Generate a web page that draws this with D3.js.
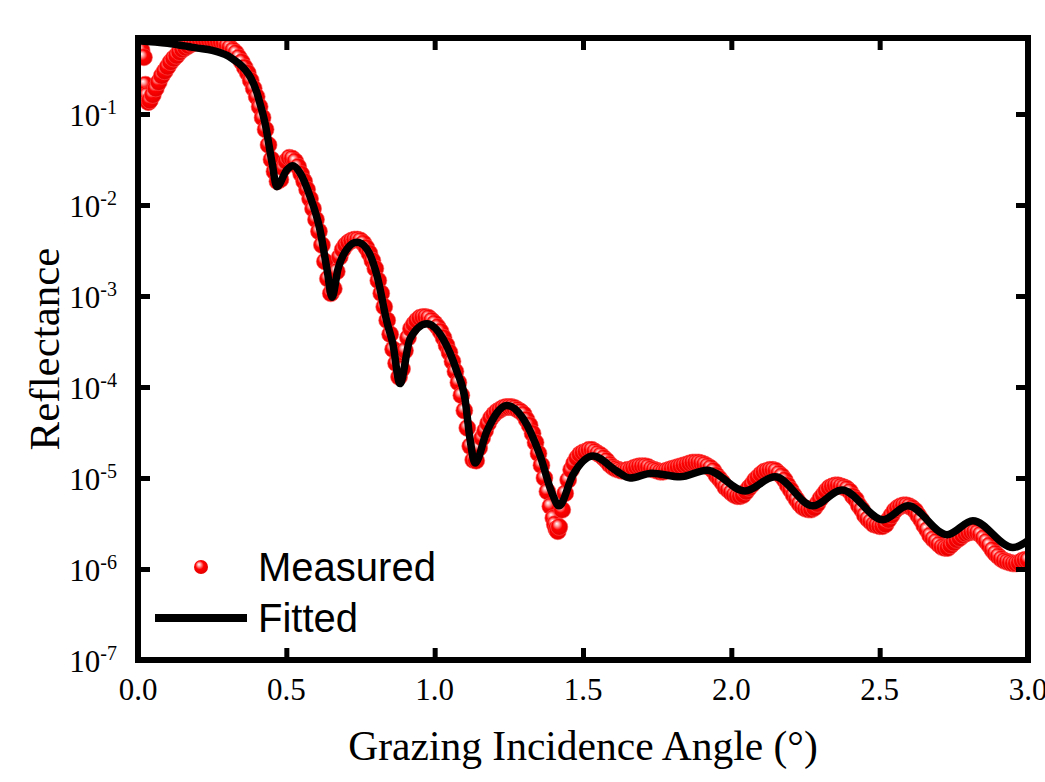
<!DOCTYPE html>
<html>
<head>
<meta charset="utf-8">
<script src="https://cdn.jsdelivr.net/npm/d3@7"></script>
<style>
  body { margin: 0; background: #fff; }
</style>
</head>
<body>
<script>
// Fitted curve (angle in degrees, reflectance)
var fitAngle = [0, 0.1, 0.2, 0.25, 0.28, 0.30, 0.32, 0.34, 0.36, 0.38, 0.40, 0.41, 0.428, 0.452, 0.468,
                0.502, 0.522, 0.546, 0.580, 0.613, 0.637, 0.654, 0.674, 0.704, 0.738,
                0.772, 0.806, 0.839, 0.859, 0.883, 0.917, 0.974, 1.028, 1.075, 1.102,
                1.119, 1.136, 1.176, 1.244, 1.298, 1.355, 1.395, 1.419, 1.466, 1.534,
                1.614, 1.658, 1.732, 1.827, 1.918, 2.046, 2.147, 2.275, 2.373, 2.511,
                2.595, 2.727, 2.814, 2.949, 3.0];
var fitR = [0.64, 0.60, 0.53, 0.50, 0.468, 0.44, 0.40, 0.36, 0.31, 0.25, 0.175, 0.135, 0.080, 0.029, 0.0159,
            0.0244, 0.0270, 0.0226, 0.0124, 5.4e-3, 1.97e-3, 9.7e-4, 1.97e-3, 3.27e-3, 3.89e-3,
            3.27e-3, 1.66e-3, 5.2e-4, 2.99e-4, 1.09e-4, 3.39e-4, 4.94e-4, 3.39e-4, 1.48e-4, 7.5e-5,
            2.7e-5, 1.46e-5, 3.27e-5, 6.28e-5, 4.53e-5, 1.78e-5, 6.9e-6, 4.94e-6, 1.08e-5, 1.74e-5,
            1.19e-5, 1.0e-5, 1.13e-5, 1.03e-5, 1.22e-5, 7.2e-6, 1.03e-5, 4.94e-6, 7.4e-6, 3.48e-6,
            4.94e-6, 2.38e-6, 3.39e-6, 1.72e-6, 2.05e-6];

// Measured points
var measuredAngle = [0.005, 0.012, 0.02, 0.025, 0.03, 0.035,
  0.04, 0.05, 0.06, 0.07, 0.08, 0.09, 0.10,
  0.11, 0.12, 0.13, 0.14, 0.15, 0.16, 0.17, 0.18, 0.19, 0.20,
  0.21, 0.22, 0.23, 0.24, 0.25, 0.26, 0.27, 0.28, 0.29, 0.30,
  0.31, 0.32, 0.33, 0.34, 0.35, 0.36, 0.37, 0.38, 0.39, 0.40,
  0.41, 0.42, 0.43, 0.44, 0.45, 0.46, 0.47, 0.48, 0.49, 0.50,
  0.51, 0.52, 0.53, 0.54, 0.55, 0.56, 0.57, 0.58, 0.59, 0.60,
  0.61, 0.62, 0.63, 0.64, 0.65, 0.66, 0.67, 0.68, 0.69, 0.70,
  0.71, 0.72, 0.73, 0.74, 0.75, 0.76, 0.77, 0.78, 0.79, 0.80,
  0.81, 0.82, 0.83, 0.84, 0.85, 0.86, 0.87, 0.88, 0.89, 0.90,
  0.91, 0.92, 0.93, 0.94, 0.95, 0.96, 0.97, 0.98, 0.99, 1.00,
  1.01, 1.02, 1.03, 1.04, 1.05, 1.06, 1.07, 1.08, 1.09, 1.10,
  1.11, 1.12, 1.13, 1.14, 1.15, 1.16, 1.17, 1.18, 1.19, 1.20,
  1.21, 1.22, 1.23, 1.24, 1.25, 1.26, 1.27, 1.28, 1.29, 1.30,
  1.31, 1.32, 1.33, 1.34, 1.35, 1.36, 1.37, 1.38, 1.39, 1.40,
  1.405, 1.41, 1.415, 1.42, 1.43, 1.44, 1.45, 1.46, 1.47, 1.48, 1.49, 1.50,
  1.51, 1.52, 1.53, 1.54, 1.55, 1.56, 1.57, 1.58, 1.59, 1.60,
  1.61, 1.62, 1.63, 1.64, 1.65, 1.66, 1.67, 1.68, 1.69, 1.70,
  1.71, 1.72, 1.73, 1.74, 1.75, 1.76, 1.77, 1.78, 1.79, 1.80,
  1.81, 1.82, 1.83, 1.84, 1.85, 1.86, 1.87, 1.88, 1.89, 1.90,
  1.91, 1.92, 1.93, 1.94, 1.95, 1.96, 1.97, 1.98, 1.99, 2.00,
  2.01, 2.02, 2.03, 2.04, 2.05, 2.06, 2.07, 2.08, 2.09, 2.10,
  2.11, 2.12, 2.13, 2.14, 2.15, 2.16, 2.17, 2.18, 2.19, 2.20,
  2.21, 2.22, 2.23, 2.24, 2.25, 2.26, 2.27, 2.28, 2.29, 2.30,
  2.31, 2.32, 2.33, 2.34, 2.35, 2.36, 2.37, 2.38, 2.39, 2.40,
  2.41, 2.42, 2.43, 2.44, 2.45, 2.46, 2.47, 2.48, 2.49, 2.50,
  2.51, 2.52, 2.53, 2.54, 2.55, 2.56, 2.57, 2.58, 2.59, 2.60,
  2.61, 2.62, 2.63, 2.64, 2.65, 2.66, 2.67, 2.68, 2.69, 2.70,
  2.71, 2.72, 2.73, 2.74, 2.75, 2.76, 2.77, 2.78, 2.79, 2.80,
  2.81, 2.82, 2.83, 2.84, 2.85, 2.86, 2.87, 2.88, 2.89, 2.90,
  2.91, 2.92, 2.93, 2.94, 2.95, 2.96, 2.97, 2.98, 2.99, 3.00];
var measuredR = [0.62, 0.50, 0.42, 0.21, 0.16, 0.135,
  0.141, 0.162, 0.191, 0.224, 0.263, 0.295, 0.331,
  0.372, 0.407, 0.437, 0.479, 0.513, 0.537, 0.562, 0.589, 0.603, 0.617,
  0.63, 0.64, 0.64, 0.64, 0.64, 0.63, 0.63, 0.617, 0.603, 0.562,
  0.537, 0.501, 0.468, 0.417, 0.372, 0.324, 0.282, 0.234, 0.191, 0.155,
  0.120, 0.0912, 0.0676, 0.0457, 0.0316, 0.0234, 0.0182, 0.0191, 0.0257, 0.0302,
  0.0331, 0.0324, 0.0302, 0.0263, 0.0219, 0.0182, 0.0148, 0.0117, 0.00912, 0.00692,
  0.00513, 0.00363, 0.00240, 0.00155, 0.00107, 0.00120, 0.00186, 0.00269, 0.00324, 0.00363,
  0.00389, 0.00407, 0.00417, 0.00417, 0.00407, 0.00380, 0.00339, 0.00295, 0.00245, 0.00200,
  0.00148, 0.00107, 7.6e-4, 5.4e-4, 3.8e-4, 2.6e-4, 1.82e-4, 1.29e-4, 1.58e-4, 2.51e-4,
  3.47e-4, 4.37e-4, 4.90e-4, 5.37e-4, 5.75e-4, 5.89e-4, 5.89e-4, 5.75e-4, 5.37e-4, 5.01e-4,
  4.57e-4, 4.07e-4, 3.47e-4, 2.88e-4, 2.40e-4, 1.91e-4, 1.48e-4, 1.12e-4, 8.1e-5, 5.5e-5,
  3.55e-5, 2.24e-5, 1.58e-5, 1.55e-5, 2.14e-5, 2.75e-5, 3.31e-5, 3.98e-5, 4.57e-5, 5.01e-5,
  5.37e-5, 5.62e-5, 5.89e-5, 6.03e-5, 6.03e-5, 6.03e-5, 5.89e-5, 5.62e-5, 5.37e-5, 5.01e-5,
  4.37e-5, 3.80e-5, 3.09e-5, 2.45e-5, 1.86e-5, 1.38e-5, 1.00e-5, 7.1e-6, 4.9e-6, 3.63e-6,
  3.1e-6, 2.75e-6, 2.6e-6, 2.9e-6, 4.47e-6, 6.8e-6, 9.5e-6, 1.23e-5, 1.45e-5, 1.66e-5, 1.82e-5, 1.91e-5,
  1.95e-5, 2.04e-5, 2.04e-5, 1.95e-5, 1.86e-5, 1.78e-5, 1.66e-5, 1.55e-5, 1.41e-5, 1.32e-5,
  1.26e-5, 1.23e-5, 1.20e-5, 1.20e-5, 1.23e-5, 1.23e-5, 1.29e-5, 1.32e-5, 1.35e-5, 1.35e-5,
  1.35e-5, 1.32e-5, 1.26e-5, 1.23e-5, 1.20e-5, 1.17e-5, 1.17e-5, 1.20e-5, 1.23e-5, 1.26e-5,
  1.29e-5, 1.32e-5, 1.35e-5, 1.38e-5, 1.41e-5, 1.45e-5, 1.48e-5, 1.48e-5, 1.48e-5, 1.45e-5,
  1.41e-5, 1.35e-5, 1.29e-5, 1.20e-5, 1.07e-5, 9.8e-6, 8.9e-6, 7.9e-6, 7.4e-6, 6.9e-6,
  6.5e-6, 6.3e-6, 6.3e-6, 6.5e-6, 7.1e-6, 7.8e-6, 8.5e-6, 9.5e-6, 1.02e-5, 1.10e-5,
  1.17e-5, 1.20e-5, 1.23e-5, 1.23e-5, 1.20e-5, 1.12e-5, 1.05e-5, 9.5e-6, 8.3e-6, 7.4e-6,
  6.5e-6, 5.8e-6, 5.2e-6, 4.8e-6, 4.6e-6, 4.5e-6, 4.5e-6, 4.7e-6, 5.2e-6, 5.9e-6,
  6.5e-6, 7.2e-6, 7.8e-6, 8.1e-6, 8.3e-6, 8.3e-6, 8.1e-6, 7.9e-6, 7.6e-6, 7.1e-6,
  6.3e-6, 5.8e-6, 5.0e-6, 4.5e-6, 3.9e-6, 3.55e-6, 3.31e-6, 3.09e-6, 3.02e-6, 2.95e-6,
  2.95e-6, 3.09e-6, 3.47e-6, 3.89e-6, 4.37e-6, 4.68e-6, 4.90e-6, 5.01e-6, 5.01e-6, 4.90e-6,
  4.68e-6, 4.37e-6, 3.89e-6, 3.47e-6, 3.02e-6, 2.69e-6, 2.34e-6, 2.14e-6, 2.00e-6, 1.86e-6,
  1.74e-6, 1.70e-6, 1.70e-6, 1.82e-6, 1.95e-6, 2.09e-6, 2.19e-6, 2.34e-6, 2.45e-6, 2.51e-6,
  2.57e-6, 2.57e-6, 2.51e-6, 2.40e-6, 2.19e-6, 2.00e-6, 1.82e-6, 1.62e-6, 1.48e-6, 1.38e-6,
  1.29e-6, 1.23e-6, 1.20e-6, 1.17e-6, 1.15e-6, 1.15e-6, 1.17e-6, 1.23e-6, 1.26e-6, 1.26e-6];

// Ticks and labels
var xTicks = [0, 0.5, 1.0, 1.5, 2.0, 2.5, 3.0];
var yTickExp = [-1, -2, -3, -4, -5, -6, -7];
var legendLabels = ['Measured', 'Fitted'];
var xTitle = 'Grazing Incidence Angle (\u00B0)';
var yTitle = 'Reflectance';

var w = 1045;
var h = 782;
var m = { left: 138, right: 1028, top: 38, bottom: 660 };
var serif = "'Times New Roman', 'Liberation Serif', serif";
var sans = "Arial, 'Liberation Sans', sans-serif";

var svg = d3.select('body')
            .append('svg')
            .attr('width', w)
            .attr('height', h);

var x = d3.scaleLinear().domain([0, 3]).range([m.left, m.right]);
var y = d3.scaleLog().domain([1e-7, 0.684]).range([m.bottom, m.top]);

var defs = svg.append('defs');
defs.append('clipPath').attr('id', 'plot')
  .append('rect')
  .attr('x', m.left).attr('y', m.top)
  .attr('width', m.right - m.left).attr('height', m.bottom - m.top);

var grad = defs.append('radialGradient')
  .attr('id', 'ball')
  .attr('cx', '0.45').attr('cy', '0.45').attr('r', '0.6')
  .attr('fx', '0.35').attr('fy', '0.3');
grad.append('stop').attr('offset', '0%').attr('stop-color', '#ffffff');
grad.append('stop').attr('offset', '22%').attr('stop-color', '#ff9c9c');
grad.append('stop').attr('offset', '50%').attr('stop-color', '#ff0000');
grad.append('stop').attr('offset', '100%').attr('stop-color', '#e00000');

var measured = measuredAngle.map((a, i) => [a, measuredR[i]]);
var fitted = fitAngle.map((a, i) => [a, fitR[i]]);

var g = svg.append('g').attr('clip-path', 'url(#plot)');

g.selectAll('circle')
  .data(measured)
  .enter()
  .append('circle')
  .attr('cx', d => x(d[0]))
  .attr('cy', d => y(d[1]))
  .attr('r', 8.5)
  .attr('fill', 'url(#ball)')
  .attr('stroke', '#ff5050')
  .attr('stroke-width', 0.6);

var line = d3.line()
  .x(d => x(d[0]))
  .y(d => y(d[1]))
  .curve(d3.curveMonotoneX);

g.append('path')
  .datum(fitted)
  .attr('d', line)
  .attr('fill', 'none')
  .attr('stroke', '#000')
  .attr('stroke-width', 7.5)
  .attr('stroke-linejoin', 'round');

// inward ticks on all four sides
function styleAxis(sel) {
  sel.select('.domain').remove();
  sel.selectAll('.tick line').attr('stroke', '#000').attr('stroke-width', 5);
  sel.selectAll('.tick text').remove();
}
var yTickVals = yTickExp.map(e => Math.pow(10, e));
svg.append('g').attr('transform', 'translate(0,' + m.bottom + ')')
  .call(d3.axisBottom(x).tickValues(xTicks).tickSize(-12)).call(styleAxis);
svg.append('g').attr('transform', 'translate(0,' + m.top + ')')
  .call(d3.axisTop(x).tickValues(xTicks).tickSize(-12)).call(styleAxis);
svg.append('g').attr('transform', 'translate(' + m.left + ',0)')
  .call(d3.axisLeft(y).tickValues(yTickVals).tickSize(-12)).call(styleAxis);
svg.append('g').attr('transform', 'translate(' + m.right + ',0)')
  .call(d3.axisRight(y).tickValues(yTickVals).tickSize(-12)).call(styleAxis);

// frame
svg.append('rect')
  .attr('x', m.left).attr('y', m.top)
  .attr('width', m.right - m.left).attr('height', m.bottom - m.top)
  .attr('fill', 'none')
  .attr('stroke', '#000')
  .attr('stroke-width', 6);

// x tick labels (the last one runs off the right edge, as in the original)
svg.selectAll('text.xl')
  .data(xTicks)
  .enter()
  .append('text')
  .attr('class', 'xl')
  .attr('x', d => x(d))
  .attr('y', 700)
  .attr('text-anchor', 'middle')
  .attr('font-family', serif)
  .attr('font-size', '31px')
  .text(d => d.toFixed(1));

// y tick labels with superscript exponents
var yl = svg.selectAll('text.yl')
  .data(yTickExp)
  .enter()
  .append('text')
  .attr('class', 'yl')
  .attr('x', 117)
  .attr('y', d => y(Math.pow(10, d)) + 12)
  .attr('text-anchor', 'end')
  .attr('font-family', serif)
  .attr('font-size', '31px');
yl.append('tspan').text('10');
yl.append('tspan')
  .attr('dy', -12)
  .attr('font-size', '20px')
  .text(d => d);

// axis titles
svg.append('text')
  .attr('x', (m.left + m.right) / 2)
  .attr('y', 760)
  .attr('text-anchor', 'middle')
  .attr('font-family', serif)
  .attr('font-size', '41.5px')
  .text(xTitle);

svg.append('text')
  .attr('transform', 'translate(59,' + ((m.top + m.bottom) / 2) + ') rotate(-90)')
  .attr('text-anchor', 'middle')
  .attr('font-family', serif)
  .attr('font-size', '43px')
  .text(yTitle);

// legend
svg.append('circle')
  .attr('cx', 201).attr('cy', 567).attr('r', 7)
  .attr('fill', 'url(#ball)');
svg.append('line')
  .attr('x1', 155).attr('x2', 247)
  .attr('y1', 618).attr('y2', 618)
  .attr('stroke', '#000').attr('stroke-width', 8);
svg.selectAll('text.lg')
  .data(legendLabels)
  .enter()
  .append('text')
  .attr('class', 'lg')
  .attr('x', 258)
  .attr('y', (d, i) => 581 + i * 51)
  .attr('font-family', sans)
  .attr('font-size', '40px')
  .text(d => d);
</script>
</body>
</html>
